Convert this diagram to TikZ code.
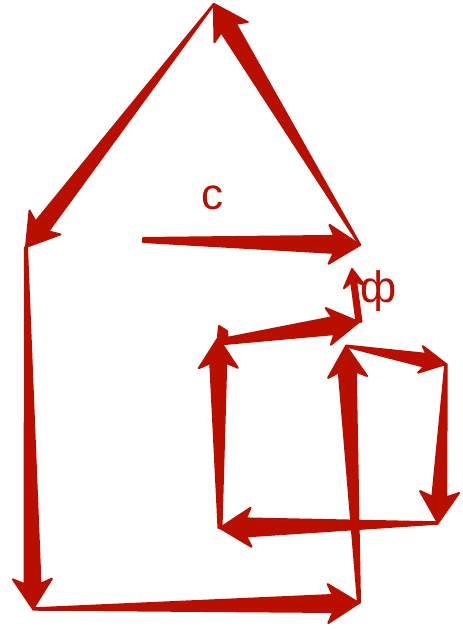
\documentclass[tikz,border=0pt]{standalone}
\usepackage{fontspec}
\setmainfont{Liberation Sans}
\usetikzlibrary{calc}
\definecolor{vecred}{HTML}{B80F00}
\tikzset{
  vecfill/.style={fill=vecred,draw=vecred,line width=2pt,line join=round},
  veclabel/.style={text=vecred,font=\fontsize{44}{44}\selectfont,inner sep=0pt}
}
% from, to, tail half width, neck half width, head length, head half width
\newcommand{\tarrow}[6]{%
  \coordinate (nk) at ($(#2)!#5pt-5pt!(#1)$);
  \path[vecfill]
    ($(#1)!#3pt!-90:(#2)$) --
    ($(nk)!#4pt!-90:(#2)$) --
    ($(#2)!#5pt!(#1)!#6pt!-90:(#2)$) --
    (#2) --
    ($(#2)!#5pt!(#1)!#6pt!90:(#2)$) --
    ($(nk)!#4pt!90:(#2)$) --
    ($(#1)!#3pt!90:(#2)$) -- cycle;}
\begin{document}
\begin{tikzpicture}[x=1pt,y=-1pt]
\useasboundingbox (0,0) rectangle (463,630);
\coordinate (cs) at (143,240);
\coordinate (ce) at (360,245);
\coordinate (top) at (214,4);
\coordinate (left) at (26,247);
\coordinate (botl) at (33,609);
\coordinate (botr) at (359,603);
\coordinate (mid) at (346,346);
\coordinate (ner) at (446,364);
\coordinate (ser) at (438,523);
\coordinate (swi) at (220,528);
\coordinate (nwi) at (218,338);
\coordinate (nwt) at (219,342);
\coordinate (ctr) at (359,322);
\coordinate (phi) at (352,269);
\tarrow{cs}{ce}{2}{8.5}{31}{19.5}
\tarrow{ce}{top}{0.3}{8.5}{33}{19.5}
\tarrow{top}{left}{0.3}{8}{31}{19.5}
\tarrow{left}{botl}{1}{8}{30}{19.5}
\tarrow{botl}{botr}{0.7}{8.5}{31}{19.5}
\tarrow{botr}{mid}{1}{8.5}{31}{19.5}
\tarrow{mid}{ner}{0.5}{6.5}{26}{13.5}
\tarrow{ner}{ser}{0.7}{7}{31}{19.5}
\tarrow{ser}{swi}{0.7}{9}{31}{19.5}
\tarrow{swi}{nwi}{1.5}{8}{30}{19.5}
\tarrow{nwt}{ctr}{2.5}{8.5}{31}{18.5}
\tarrow{ctr}{phi}{2.5}{2.5}{18}{10.5}
\path[vecfill] (218,337) -- (219,326) -- (227,331) -- (228,342) -- cycle;
\node[veclabel] (clabel) at (212,198) {c};
\node[veclabel] (flabel) at (379,291) {ф};
\end{tikzpicture}
\end{document}
